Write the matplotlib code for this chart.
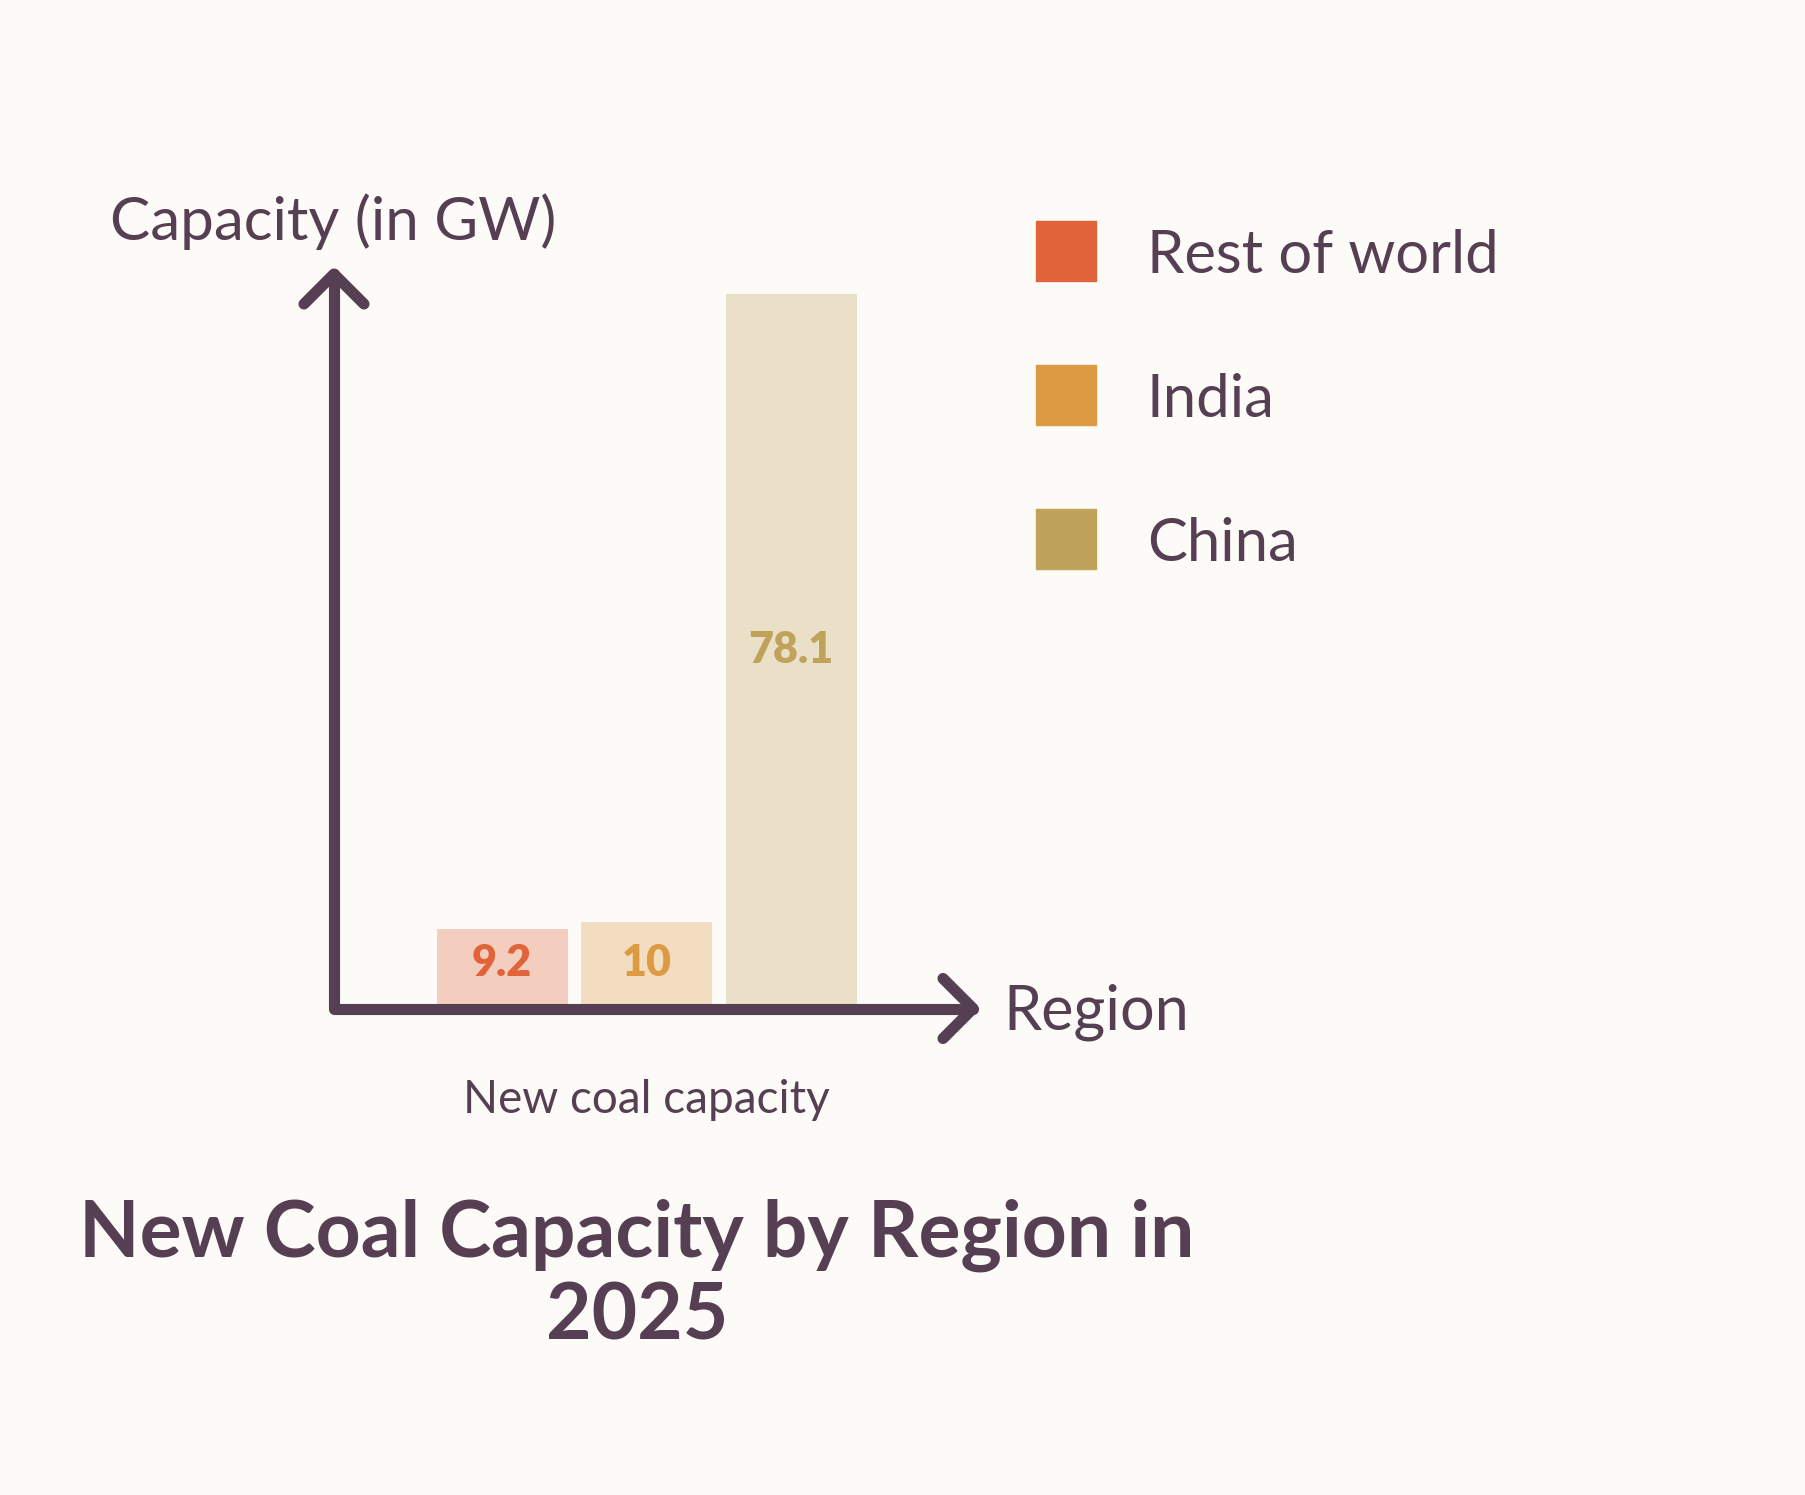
import matplotlib
matplotlib.use("Agg")
import matplotlib.pyplot as plt
from matplotlib.lines import Line2D

# ---- data ----
regions = ["Rest of world", "India", "China"]
capacity_gw = [9.2, 10, 78.1]
group_label = "New coal capacity"
title = "New Coal Capacity by Region in\n2025"
y_label = "Capacity (in GW)"
x_label = "Region"

solid_colors = ["#E06339", "#DC9A43", "#C0A35B"]
bg = "#FCFBF7"
ink = "#573F53"

W, H = 1805, 1495
fig = plt.figure(figsize=(W / 100, H / 100), dpi=100, facecolor=bg)
plt.rcParams['font.family'] = ['Lato', 'DejaVu Sans']

def fx(px):
    return px / W

def fy(py):
    return 1 - py / H

# axes placement (pixel box)
left_px, right_px, top_px, bottom_px = 334, 973, 274, 1014
ax = fig.add_axes([fx(left_px), fy(bottom_px), fx(right_px) - fx(left_px), fy(top_px) - fy(bottom_px)])
ax.set_facecolor("none")
step = 144.5
ax.set_xlim((left_px - 502) / step, (right_px - 502) / step)
ax.set_ylim(0, (bottom_px - top_px) / 9.22)
for s in ax.spines.values():
    s.set_visible(False)
ax.set_xticks([])
ax.set_yticks([])

xs = list(range(len(regions)))
bars = ax.bar(xs, capacity_gw, width=131 / step, color=solid_colors, alpha=0.3,
              edgecolor="none", zorder=1)
for i, (x, v) in enumerate(zip(xs, capacity_gw)):
    ax.text(x, max(v / 2 + 0.4, 5.5), f"{v:g}", ha="center", va="center",
            fontsize=31, fontweight="heavy", color=solid_colors[i], zorder=3)

# axis lines with chevron arrowheads
lw = 8
kw = dict(color=ink, linewidth=lw, solid_capstyle="round", solid_joinstyle="round",
          transform=fig.transFigure)
ax_y = 1008.5
fig.add_artist(Line2D([fx(334), fx(334), fx(973)], [fy(274), fy(ax_y), fy(ax_y)], **kw))
fig.add_artist(Line2D([fx(304), fx(334), fx(364)], [fy(304), fy(274), fy(304)], **kw))
fig.add_artist(Line2D([fx(943), fx(973), fx(943)], [fy(ax_y - 30), fy(ax_y), fy(ax_y + 30)], **kw))

# labels
fig.text(fx(110), fy(222), y_label, ha="left", va="center", fontsize=43.3, color=ink)
fig.text(fx(1003), fy(1012), x_label, ha="left", va="center", fontsize=44, color=ink)
fig.text(fx(646), fy(1100), group_label, ha="center", va="center", fontsize=33, color=ink)

# legend
leg_y = [251, 395, 539]
for name, c, y in zip(regions, solid_colors, leg_y):
    fig.patches.append(plt.Rectangle((fx(1036), fy(y + 30)), fx(60), 60 / H,
                                     transform=fig.transFigure, color=c, figure=fig))
    fig.text(fx(1147), fy(y + 5), name, ha="left", va="center", fontsize=43, color=ink)

# title
fig.text(fx(637), fy(1276), title, ha="center", va="center", fontsize=56.5,
         fontweight="bold", color=ink, linespacing=1.15)

fig.savefig("out.png", dpi=100, facecolor=bg)
